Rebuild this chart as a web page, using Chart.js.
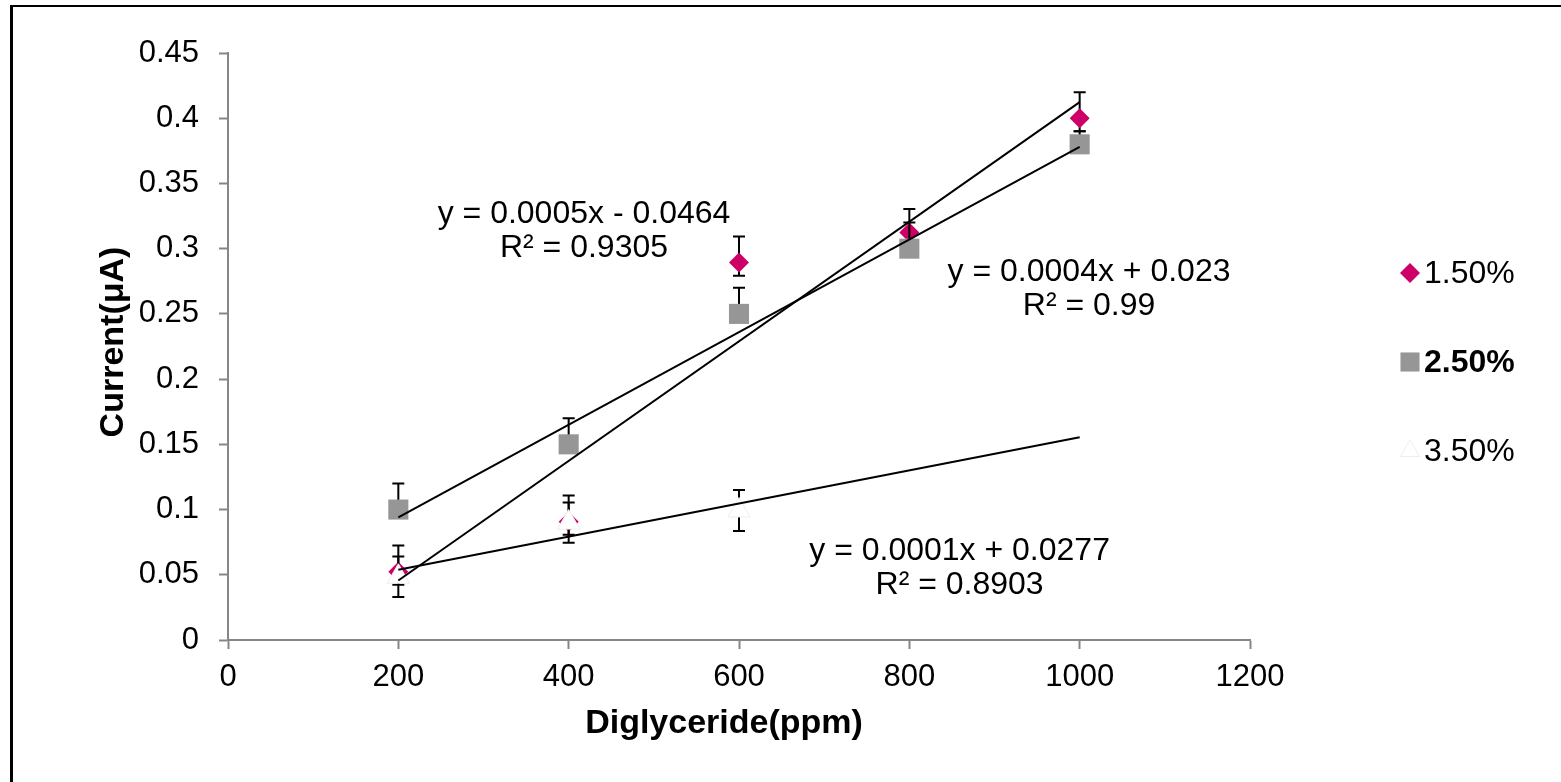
<!DOCTYPE html>
<html>
<head>
<meta charset="utf-8">
<script src="https://cdn.jsdelivr.net/npm/chart.js@4.4.1/dist/chart.umd.min.js"></script>
<style>
  html, body { margin: 0; padding: 0; background: #fff; }
  #wrap { position: relative; width: 1561px; height: 782px; }
</style>
</head>
<body>
<div id="wrap"><canvas id="chart" width="1561" height="782"></canvas></div>
<script>
// values
const xValues = [200, 400, 600, 800, 1000];
const x35 = [200, 400, 600];
const trendRange = [200, 1000];

const s15 = [0.0524, 0.0907, 0.2893, 0.3124, 0.40];
const s15Up = [0.02, 0.02, 0.02, 0.018, 0.02];
const s15Down = [0.01, 0.01, 0.01, 0.01, 0.01];

const s25 = [0.10, 0.15, 0.25, 0.30, 0.38];
const s25Up = [0.02, 0.02, 0.02, 0.02, 0.01];
const s25Down = [0, 0, 0, 0, 0];

const s35 = [0.0485, 0.09, 0.0993];
const s35Up = [0.0155, 0.0155, 0.0157];
const s35Down = [0.0155, 0.0155, 0.0157];

const seriesNames = ['1.50%', '2.50%', '3.50%'];
const xTickLabels = ['0', '200', '400', '600', '800', '1000', '1200'];
const yTickLabels = ['0', '0.05', '0.1', '0.15', '0.2', '0.25', '0.3', '0.35', '0.4', '0.45'];

// trendline labels, anchored in data units
const eqLines = [
  ['y = 0.0005x - 0.0464', 'R² = 0.9305'],
  ['y = 0.0004x + 0.023', 'R² = 0.99'],
  ['y = 0.0001x + 0.0277', 'R² = 0.8903']
];
const eqAnchorX = [418, 1011, 859];
const eqAnchorY = [0.3135, 0.269, 0.0548];

const FONT = "'Liberation Sans', Arial, sans-serif";
const magenta = '#cc0066';
const grey = '#969696';
const axisGrey = '#868686';

function fit(xs, ys) {
  const n = xs.length;
  const mx = xs.reduce((a, b) => a + b) / n;
  const my = ys.reduce((a, b) => a + b) / n;
  let sxy = 0, sxx = 0;
  xs.forEach((x, i) => {
    sxy += (x - mx) * (ys[i] - my);
    sxx += (x - mx) * (x - mx);
  });
  const m = sxy / sxx;
  return x => my + m * (x - mx);
}

function pts(xs, ys) {
  return xs.map((x, i) => ({ x: x, y: ys[i] }));
}

function trend(xs, ys) {
  const f = fit(xs, ys);
  return trendRange.map(x => ({ x: x, y: f(x) }));
}

const markerStyles = [
  { pointStyle: 'rectRot', radius: 10, legendRadius: 10, fill: magenta, stroke: magenta, bw: 0 },
  { pointStyle: 'rect', radius: 14.2, legendRadius: 13.5, fill: grey, stroke: grey, bw: 0 },
  { pointStyle: 'triangle', radius: 13, legendRadius: 11, fill: '#ffffff', stroke: '#eeeeee', bw: 1 }
];

function markerSet(label, data, up, down, k) {
  const m = markerStyles[k];
  return {
    label: label,
    data: data,
    errUp: up,
    errDown: down,
    showLine: false,
    pointStyle: m.pointStyle,
    pointRadius: m.radius,
    pointBackgroundColor: m.fill,
    pointBorderColor: m.stroke,
    pointBorderWidth: m.bw,
    order: 6 - k
  };
}

function trendSet(data, k) {
  return {
    label: 'trend ' + seriesNames[k],
    data: data,
    showLine: true,
    borderColor: '#000',
    borderWidth: 2,
    pointRadius: 0,
    fill: false,
    order: 3 - k
  };
}

// error bars go under each series' markers
const errorBars = {
  id: 'errorBars',
  beforeDatasetDraw(chart, args) {
    const ds = chart.data.datasets[args.index];
    if (!ds.errUp) return;
    const { ctx, scales: { x, y } } = chart;
    ctx.save();
    ctx.strokeStyle = '#000';
    ctx.lineWidth = 2;
    ds.data.forEach((p, i) => {
      const px = x.getPixelForValue(p.x);
      const top = y.getPixelForValue(p.y + ds.errUp[i]);
      const bot = y.getPixelForValue(p.y - ds.errDown[i]);
      ctx.beginPath();
      ctx.moveTo(px, top);
      ctx.lineTo(px, bot);
      if (ds.errUp[i] > 0) { ctx.moveTo(px - 6, top); ctx.lineTo(px + 6, top); }
      if (ds.errDown[i] > 0) { ctx.moveTo(px - 6, bot); ctx.lineTo(px + 6, bot); }
      ctx.stroke();
    });
    ctx.restore();
  }
};

const frame = {
  id: 'frame',
  beforeDraw(chart) {
    const ctx = chart.ctx;
    ctx.save();
    ctx.fillStyle = '#fff';
    ctx.fillRect(0, 0, chart.width, chart.height);
    ctx.fillStyle = '#000';
    ctx.fillRect(10, 5, chart.width, 2);
    ctx.fillRect(10, 5, 3, chart.height);
    ctx.restore();
  }
};

const labels = {
  id: 'labels',
  afterDraw(chart) {
    const { ctx, scales: { x, y } } = chart;
    ctx.save();
    ctx.fillStyle = '#000';
    ctx.textAlign = 'center';
    ctx.textBaseline = 'middle';
    ctx.font = '32px ' + FONT;
    eqLines.forEach((lines, k) => {
      const cx = x.getPixelForValue(eqAnchorX[k]);
      const cy = y.getPixelForValue(eqAnchorY[k]);
      ctx.fillText(lines[0], cx, cy - 17);
      ctx.fillText(lines[1], cx, cy + 17);
    });

    // axis titles
    ctx.font = 'bold 34px ' + FONT;
    ctx.fillText('Diglyceride(ppm)', 724, 724);
    ctx.save();
    ctx.translate(114, 342);
    ctx.rotate(-Math.PI / 2);
    ctx.fillText('Current(μA)', 0, 0);
    ctx.restore();

    // legend on the right
    const legendY = [273, 362, 451];
    seriesNames.forEach((name, k) => {
      const m = markerStyles[k];
      ctx.fillStyle = m.fill;
      ctx.strokeStyle = m.stroke;
      ctx.lineWidth = 1;
      Chart.helpers.drawPoint(ctx, {
        pointStyle: m.pointStyle,
        radius: m.legendRadius,
        rotation: 0,
        borderWidth: m.bw
      }, 1410, legendY[k]);
      ctx.fillStyle = '#000';
      ctx.textAlign = 'left';
      ctx.font = (k === 1 ? 'bold ' : '') + '32px ' + FONT;
      ctx.fillText(name, 1424, legendY[k] + 1);
    });
    ctx.restore();
  }
};

new Chart(document.getElementById('chart'), {
  type: 'scatter',
  data: {
    datasets: [
      markerSet(seriesNames[0], pts(xValues, s15), s15Up, s15Down, 0),
      markerSet(seriesNames[1], pts(xValues, s25), s25Up, s25Down, 1),
      markerSet(seriesNames[2], pts(x35, s35), s35Up, s35Down, 2),
      trendSet(trend(xValues, s15), 0),
      trendSet(trend(xValues, s25), 1),
      trendSet(trend(x35, s35), 2)
    ]
  },
  options: {
    responsive: false,
    animation: false,
    layout: { padding: { left: 0, top: 53, right: 311, bottom: 0 } },
    plugins: {
      legend: { display: false },
      tooltip: { enabled: false }
    },
    scales: {
      x: {
        type: 'linear',
        min: 0,
        max: 1200,
        afterFit: s => { s.height = 142; },
        afterBuildTicks: s => { s.ticks = xTickLabels.map(t => ({ value: Number(t) })); },
        ticks: {
          color: '#000',
          font: { size: 31, family: FONT },
          padding: 10,
          maxRotation: 0,
          callback: (v, i) => xTickLabels[i]
        },
        grid: { drawOnChartArea: false, drawTicks: true, tickLength: 9, tickColor: axisGrey, tickWidth: 2 },
        border: { color: axisGrey, width: 2 }
      },
      y: {
        min: 0,
        max: 0.45,
        afterFit: s => { s.width = 228; },
        afterBuildTicks: s => { s.ticks = yTickLabels.map(t => ({ value: Number(t) })); },
        ticks: {
          color: '#000',
          font: { size: 31, family: FONT },
          padding: 20,
          callback: (v, i) => yTickLabels[i]
        },
        grid: { drawOnChartArea: false, drawTicks: true, tickLength: 9, tickColor: axisGrey, tickWidth: 2 },
        border: { color: axisGrey, width: 2 }
      }
    }
  },
  plugins: [frame, errorBars, labels]
});
</script>
</body>
</html>
